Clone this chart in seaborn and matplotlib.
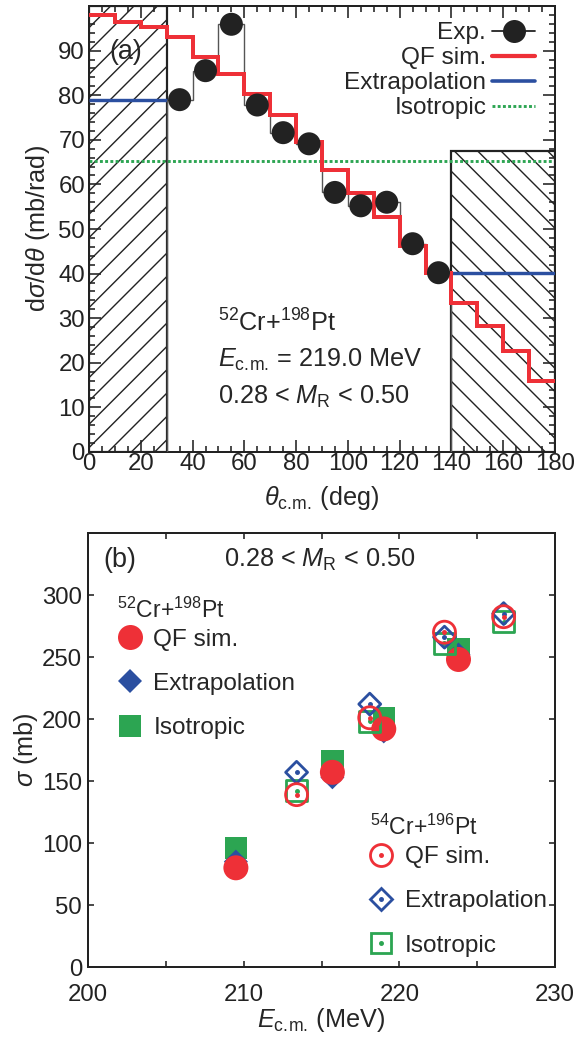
import numpy as np
import matplotlib
matplotlib.use('Agg')
import matplotlib.pyplot as plt
from matplotlib.lines import Line2D
from matplotlib.patches import Rectangle
from matplotlib.ticker import MultipleLocator, FuncFormatter
import seaborn as sns

# ---- panel (a): angular distribution, 52Cr+198Pt at 219.0 MeV ----
theta_edges = np.arange(0, 190, 10)
qf_sim = [97.9, 96.4, 95.4, 93.0, 88.6, 84.7, 80.2, 75.6, 69.6, 63.3,
          58.0, 52.6, 46.3, 40.2, 33.4, 28.3, 22.6, 15.9]
exp_edges = np.arange(30, 150, 10)
exp_theta = [35, 45, 55, 65, 75, 85, 95, 105, 115, 125, 135]
exp_val = [79.0, 85.5, 95.9, 77.8, 71.6, 69.1, 58.2, 55.2, 56.0, 46.7, 40.2]
extrap_low = 79.0      # 0-30 deg
extrap_high = 40.2     # 140-180 deg
isotropic = 65.2
excl_low = [0, 30]
excl_high = [140, 180]
excl_high_top = 67.6

# ---- panel (b): integrated cross sections ----
e_52 = [209.5, 215.7, 219.0, 223.8]
qf_52 = [80, 157, 192, 248]
ext_52 = [85, 153, 190, 252]
iso_52 = [96, 166, 201, 256]
e_54 = [213.4, 218.1, 222.9, 226.7]
qf_54 = [139, 201, 270, 282.5]
ext_54 = [157, 212, 266, 285]
iso_54 = [142, 198, 261, 278.5]

RED = '#ee3037'
BLUE = '#2b4fa0'
GREEN = '#2ca552'
BLACK = '#222222'

DPI = 140
P = 72 / DPI   # pixels -> points


def px(v):
    return v * P


sns.set_style('ticks')
plt.rcParams['font.family'] = ['Liberation Sans', 'DejaVu Sans']
plt.rcParams['mathtext.fontset'] = 'custom'
plt.rcParams['mathtext.rm'] = 'Liberation Sans'
plt.rcParams['mathtext.it'] = 'Liberation Sans:italic'
plt.rcParams['mathtext.bf'] = 'Liberation Sans:bold'
plt.rcParams['hatch.linewidth'] = px(1.4)
plt.rcParams['axes.linewidth'] = px(2.0)

FS_TICK = px(24)
FS_LEG = px(24.4)
FS_TXT = px(25.3)
FS_PANEL = px(27)

fig = plt.figure(figsize=(579 / DPI, 1039 / DPI), dpi=DPI)
ax1 = fig.add_axes([89 / 579, 1 - 452 / 1039, 466 / 579, 446 / 1039])
ax2 = fig.add_axes([88 / 579, 1 - 967 / 1039, 467 / 579, 434 / 1039])

# hatched (excluded) regions
ax1.add_patch(Rectangle((excl_low[0], 0), excl_low[1] - excl_low[0], 100,
                        fill=False, hatch='//', edgecolor=BLACK, lw=px(2.2), zorder=1))
ax1.add_patch(Rectangle((excl_high[0], 0), excl_high[1] - excl_high[0], excl_high_top,
                        fill=False, hatch='\\\\', edgecolor=BLACK, lw=px(2.2), zorder=1))

dots = (0, (1, 0.8))
ax1.axhline(isotropic, color=GREEN, lw=px(2.9), ls=dots, zorder=2)
ax1.hlines(extrap_low, excl_low[0], excl_low[1], color=BLUE, lw=px(3.4), zorder=3)
ax1.hlines(extrap_high, excl_high[0], excl_high[1], color=BLUE, lw=px(3.4), zorder=3)
ax1.stairs(exp_val, exp_edges, color='#555555', lw=px(1.4), zorder=3)
ax1.stairs(qf_sim, theta_edges, color=RED, lw=px(4.0), baseline=None, zorder=4)
sns.scatterplot(x=exp_theta, y=exp_val, ax=ax1, color=BLACK, s=px(23) ** 2,
                edgecolor='none', zorder=5, legend=False)

ax1.set_xlim(0, 180)
ax1.set_ylim(0, 100)
ax1.xaxis.set_major_locator(MultipleLocator(20))
ax1.xaxis.set_minor_locator(MultipleLocator(5))
ax1.yaxis.set_minor_locator(MultipleLocator(2))
ax1.set_yticks([0, 10, 20, 30, 40, 50, 60, 70, 80, 90])
ax1.tick_params(which='both', direction='in', top=True, right=True,
                labelsize=FS_TICK, width=px(1.6), colors=BLACK)
ax1.tick_params(axis='x', pad=px(1))
ax1.tick_params(axis='y', pad=px(4))
ax1.tick_params(which='major', length=px(12.5))
ax1.tick_params(which='minor', length=px(6.5))
ax1.set_xlabel(r'$\theta_{\rm c.\!m.\!}$ (deg)', fontsize=FS_TXT, labelpad=px(9))
ax1.set_ylabel(r'd$\sigma$/d$\theta$ (mb/rad)', fontsize=FS_TXT, labelpad=px(6))

ax1.text(0.078, 0.897, '(a)', transform=ax1.transAxes, fontsize=FS_PANEL,
         ha='center', va='center')
ax1.text(0.277, 0.289, r'$^{52}$Cr+$^{198}$Pt', transform=ax1.transAxes,
         fontsize=FS_TXT, va='center')
ax1.text(0.277, 0.206, r'$E_{\rm c.\!m.\!}$ = 219.0 MeV', transform=ax1.transAxes,
         fontsize=FS_TXT, va='center')
ax1.text(0.277, 0.123, r'0.28 < $M_{\rm R}$ < 0.50', transform=ax1.transAxes,
         fontsize=FS_TXT, va='center')

handles_a = [
    Line2D([], [], color=BLACK, lw=px(1.8), marker='o', ms=px(23), mec='none'),
    Line2D([], [], color=RED, lw=px(4.2)),
    Line2D([], [], color=BLUE, lw=px(3.6)),
    Line2D([], [], color=GREEN, lw=px(2.9), ls=dots),
]
ax1.legend(handles_a, ['Exp.', 'QF sim.', 'Extrapolation', 'Isotropic'],
           loc='upper right', bbox_to_anchor=(0.957, 0.964), frameon=False,
           markerfirst=False, fontsize=FS_LEG, handlelength=1.75,
           handletextpad=0.25, labelspacing=0.12, borderpad=0, borderaxespad=0)

# ---- panel (b) ----
sns.scatterplot(x=e_52, y=iso_52, ax=ax2, marker='s', s=px(22.5) ** 2, color=GREEN,
                edgecolor='none', zorder=3, legend=False)
sns.scatterplot(x=e_52, y=ext_52, ax=ax2, marker='D', s=px(17) ** 2, color=BLUE,
                edgecolor='none', zorder=4, legend=False)
sns.scatterplot(x=e_52, y=qf_52, ax=ax2, marker='o', s=px(25) ** 2, color=RED,
                edgecolor='none', zorder=5, legend=False)

for yv, mk, col, size, z in [(iso_54, 's', GREEN, 21, 6),
                             (ext_54, 'D', BLUE, 15.5, 7),
                             (qf_54, 'o', RED, 22, 8)]:
    ax2.scatter(e_54, yv, marker=mk, s=px(size) ** 2, facecolors='none',
                edgecolors=col, linewidths=px(2.8), zorder=z)
    ax2.scatter(e_54, yv, marker='o', s=px(3) ** 2, color=col, zorder=z)

ax2.set_xlim(200, 230)
ax2.set_ylim(0, 350)
ax2.xaxis.set_major_locator(MultipleLocator(5))
ax2.xaxis.set_major_formatter(FuncFormatter(
    lambda v, p: f'{v:.0f}' if round(v) % 10 == 0 else ''))
ax2.set_yticks([0, 50, 100, 150, 200, 250, 300])
ax2.tick_params(which='both', direction='in', top=True, right=True,
                labelsize=FS_TICK, width=px(1.6), length=px(6.5), colors=BLACK)
ax2.tick_params(axis='x', pad=px(17))
ax2.tick_params(axis='y', pad=px(6))
ax2.set_xlabel(r'$E_{\rm c.\!m.\!}$ (MeV)', fontsize=FS_TXT, labelpad=px(0))
ax2.set_ylabel(r'$\sigma$ (mb)', fontsize=FS_TXT, labelpad=px(2))

ax2.text(0.069, 0.938, '(b)', transform=ax2.transAxes, fontsize=FS_PANEL,
         ha='center', va='center')
ax2.text(0.497, 0.938, r'0.28 < $M_{\rm R}$ < 0.50', transform=ax2.transAxes,
         fontsize=FS_TXT, ha='center', va='center')

# legend for 52Cr+198Pt (filled symbols)
ax2.text(0.062, 0.823, r'$^{52}$Cr+$^{198}$Pt', transform=ax2.transAxes,
         fontsize=px(23), va='center')
h_52 = [Line2D([], [], ls='none', marker='o', ms=px(25), color=RED, mec='none'),
        Line2D([], [], ls='none', marker='D', ms=px(17), color=BLUE, mec='none'),
        Line2D([], [], ls='none', marker='s', ms=px(22.5), color=GREEN, mec='none')]
leg1 = ax2.legend(h_52, ['QF sim.', 'Extrapolation', 'Isotropic'],
                  loc='upper left', bbox_to_anchor=(0.064, 0.779),
                  frameon=False, fontsize=FS_LEG,
                  handlelength=1.0, handletextpad=0.45, labelspacing=0.9,
                  borderpad=0, borderaxespad=0)
ax2.add_artist(leg1)


def open_handle(mk, col, ms):
    return (Line2D([], [], ls='none', marker=mk, ms=px(ms), mfc='none', mec=col,
                   mew=px(2.8)),
            Line2D([], [], ls='none', marker='o', ms=px(3), color=col))


# legend for 54Cr+196Pt (open symbols)
ax2.text(0.604, 0.323, r'$^{54}$Cr+$^{196}$Pt', transform=ax2.transAxes,
         fontsize=px(23), va='center')
h_54 = [open_handle('o', RED, 22), open_handle('D', BLUE, 15.5),
        open_handle('s', GREEN, 21)]
ax2.legend(h_54, ['QF sim.', 'Extrapolation', 'Isotropic'],
           loc='upper left', bbox_to_anchor=(0.602, 0.278),
           frameon=False, fontsize=FS_LEG,
           handlelength=1.0, handletextpad=0.45, labelspacing=0.9,
           borderpad=0, borderaxespad=0)

for ax in (ax1, ax2):
    for sp in ax.spines.values():
        sp.set_color(BLACK)

fig.savefig('out.png', dpi=DPI)
